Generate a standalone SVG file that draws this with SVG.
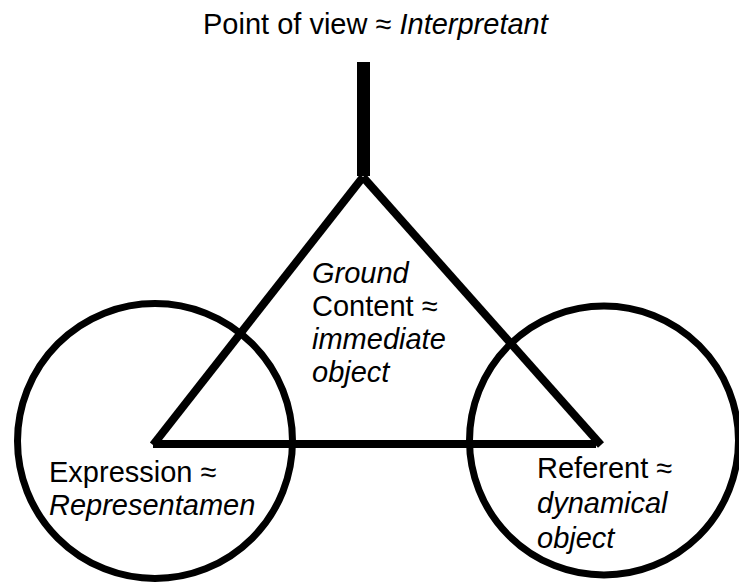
<svg xmlns="http://www.w3.org/2000/svg" width="739" height="583" viewBox="0 0 739 583">
<style>
.t{font-family:"Liberation Sans",Arial,Helvetica,sans-serif;font-size:29px;fill:#000}
.i{font-style:italic}
.c{fill:none;stroke:#000;stroke-width:7}
.e{fill:none;stroke:#000;stroke-width:8;stroke-linecap:butt}
</style>
<rect width="739" height="583" fill="#fff"/>
<g id="connectors">
<line class="e" x1="363.5" y1="62" x2="363.5" y2="176" style="stroke-width:13"/>
<line class="e" x1="363" y1="177" x2="153" y2="445"/>
<line class="e" x1="363" y1="177" x2="601" y2="445"/>
<line class="e" x1="153" y1="444" x2="596" y2="444"/>
</g>
<g id="interpretant">
<text class="t" x="203" y="34">Point of view ≈ <tspan class="i">Interpretant</tspan></text>
</g>
<g id="ground">
<text class="t" x="312" y="283"><tspan class="i">Ground</tspan></text>
<text class="t" x="312" y="316">Content ≈</text>
<text class="t i" x="312" y="349">immediate</text>
<text class="t i" x="312" y="382">object</text>
</g>
<g id="expression">
<circle class="c" cx="155" cy="441" r="137.5"/>
<text class="t" x="49" y="482">Expression ≈</text>
<text class="t i" x="49" y="515">Representamen</text>
</g>
<g id="referent">
<circle class="c" cx="604" cy="440.5" r="134.5"/>
<text class="t" x="537" y="478">Referent ≈</text>
<text class="t i" x="537" y="513">dynamical</text>
<text class="t i" x="537" y="548">object</text>
</g>
</svg>
